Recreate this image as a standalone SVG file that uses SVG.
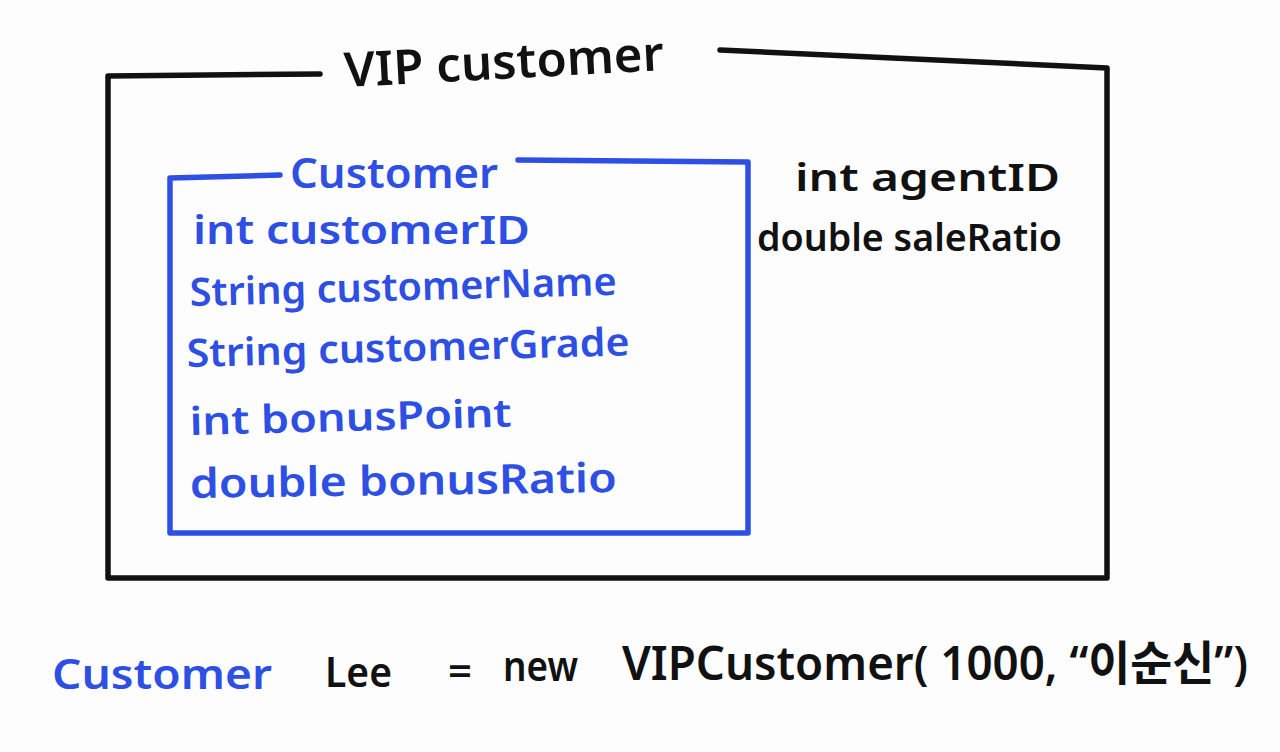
<svg xmlns="http://www.w3.org/2000/svg" width="1280" height="752" viewBox="0 0 1280 752">
  <style>
    .frame { fill: none; stroke-width: 5.5; stroke-linecap: round; stroke-linejoin: round; }
    .black { stroke: #111111; }
    .blue { stroke: #2d4fe3; }
    .t { font-family: "Noto Sans", "Noto Sans CJK KR", sans-serif; font-weight: 600; }
    .tb { fill: #111111; }
    .tu { fill: #2d4fe3; }
  </style>
  <rect width="1280" height="752" fill="#fdfdfd"/>

  <!-- Outer class box: VIPCustomer -->
  <g id="vip-customer">
    <path class="frame black" d="M320,74 L108,76 L108,578 L1107,578 L1107,68 L720,50"/>
    <text class="t tb" x="345" y="87" font-size="48" textLength="320" lengthAdjust="spacingAndGlyphs" transform="rotate(-3 345 87)">VIP customer</text>
    <text class="t tb" x="795" y="191" font-size="37" textLength="265" lengthAdjust="spacingAndGlyphs">int agentID</text>
    <text class="t tb" x="757" y="251" font-size="37" textLength="305" lengthAdjust="spacingAndGlyphs">double saleRatio</text>
  </g>

  <!-- Inner class box: Customer -->
  <g id="customer">
    <path class="frame blue" d="M280,175 L170,178 L170,533 L748,533 L748,162 L518,160"/>
    <text class="t tu" x="290" y="188" font-size="41" textLength="208" lengthAdjust="spacingAndGlyphs">Customer</text>
    <text class="t tu" x="193" y="244" font-size="39" textLength="337" lengthAdjust="spacingAndGlyphs">int customerID</text>
    <text class="t tu" x="190" y="306" font-size="39" textLength="427" lengthAdjust="spacingAndGlyphs" transform="rotate(-1.5 190 306)">String customerName</text>
    <text class="t tu" x="187" y="367" font-size="39" textLength="443" lengthAdjust="spacingAndGlyphs" transform="rotate(-1.5 187 367)">String customerGrade</text>
    <text class="t tu" x="190" y="435" font-size="39" textLength="322" lengthAdjust="spacingAndGlyphs" transform="rotate(-1.5 190 435)">int bonusPoint</text>
    <text class="t tu" x="190" y="498" font-size="41" textLength="427" lengthAdjust="spacingAndGlyphs" transform="rotate(-0.8 190 498)">double bonusRatio</text>
  </g>

  <!-- Declaration line -->
  <g id="declaration">
    <text class="t tu" x="52" y="689" font-size="42" textLength="220" lengthAdjust="spacingAndGlyphs">Customer</text>
    <text class="t tb" x="325" y="687" font-size="42" textLength="67" lengthAdjust="spacingAndGlyphs">Lee</text>
    <text class="t tb" x="448" y="685" font-size="40" textLength="24" lengthAdjust="spacingAndGlyphs">=</text>
    <text class="t tb" x="503" y="681" font-size="42" textLength="75" lengthAdjust="spacingAndGlyphs">new</text>
    <text class="t tb" x="622" y="680" font-size="47" textLength="626" lengthAdjust="spacingAndGlyphs">VIPCustomer( 1000, “이순신”)</text>
  </g>

  <g id="connectors"/>
</svg>
